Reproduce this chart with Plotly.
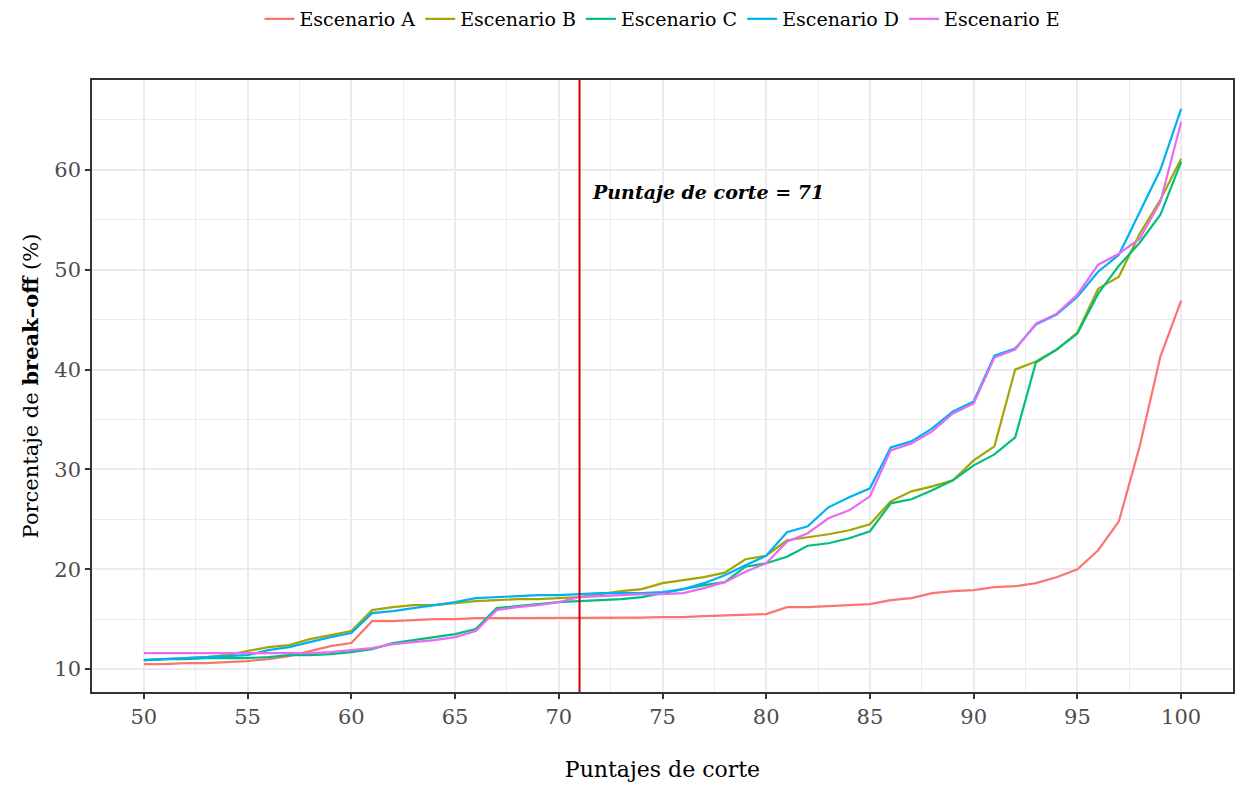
import plotly.graph_objects as go

# Puntajes de corte (eje x)
puntajes = list(range(50, 101))

# Porcentaje de break-off por escenario
esc_a = [10.5, 10.5, 10.6, 10.6, 10.7, 10.8, 11.0, 11.3, 11.8, 12.3,
         12.6, 14.8, 14.8, 14.9, 15.0, 15.0, 15.1, 15.1, 15.1, 15.1,
         15.1, 15.1, 15.1, 15.15, 15.15, 15.2, 15.2, 15.3, 15.35, 15.4,
         15.5, 16.2, 16.2, 16.3, 16.4, 16.5, 16.9, 17.1, 17.6, 17.8,
         17.9, 18.2, 18.3, 18.6, 19.2, 20.0, 21.9, 24.8, 32.3, 41.3,
         46.9]
esc_b = [10.9, 11.0, 11.1, 11.2, 11.4, 11.8, 12.2, 12.4, 13.0, 13.4,
         13.8, 15.9, 16.2, 16.4, 16.4, 16.6, 16.8, 16.9, 17.0, 17.0,
         17.1, 17.2, 17.5, 17.8, 18.0, 18.6, 18.9, 19.2, 19.65, 21.0,
         21.35, 22.9, 23.2, 23.5, 23.9, 24.5, 26.8, 27.8, 28.3, 28.9,
         30.9, 32.3, 40.0, 40.8, 42.0, 43.7, 48.1, 49.3, 53.6, 57.0,
         61.1]
esc_c = [10.9, 11.0, 11.0, 11.1, 11.1, 11.1, 11.2, 11.4, 11.4, 11.5,
         11.7, 12.0, 12.6, 12.9, 13.2, 13.5, 14.0, 16.1, 16.3, 16.5,
         16.7, 16.8, 16.9, 17.0, 17.2, 17.6, 18.0, 18.4, 18.7, 20.25,
         20.6, 21.25, 22.35, 22.6, 23.1, 23.8, 26.6, 27.0, 27.9, 28.9,
         30.4, 31.5, 33.2, 40.7, 42.0, 43.6, 47.6, 50.4, 52.7, 55.5,
         60.8]
esc_d = [10.9, 11.0, 11.1, 11.2, 11.3, 11.4, 11.9, 12.2, 12.7, 13.2,
         13.6, 15.6, 15.8, 16.1, 16.4, 16.7, 17.1, 17.2, 17.3, 17.4,
         17.4, 17.5, 17.6, 17.6, 17.6, 17.7, 18.0, 18.6, 19.4, 20.4,
         21.35, 23.7, 24.3, 26.2, 27.2, 28.1, 32.2, 32.8, 34.1, 35.8,
         36.8, 41.4, 42.1, 44.5, 45.5, 47.3, 49.8, 51.5, 55.7, 60.0,
         66.1]
esc_e = [11.6, 11.6, 11.6, 11.6, 11.6, 11.6, 11.6, 11.6, 11.6, 11.7,
         11.9, 12.1, 12.5, 12.7, 12.9, 13.2, 13.8, 15.9, 16.2, 16.4,
         16.7, 17.2, 17.3, 17.4, 17.5, 17.5, 17.6, 18.1, 18.7, 19.75,
         20.6, 22.75, 23.6, 25.1, 25.9, 27.3, 31.9, 32.6, 33.8, 35.6,
         36.6, 41.2, 42.0, 44.6, 45.6, 47.5, 50.5, 51.6, 53.1, 56.8,
         64.8]

nombres = ["Escenario A", "Escenario B", "Escenario C", "Escenario D", "Escenario E"]
series = [esc_a, esc_b, esc_c, esc_d, esc_e]
colores = ["#F8766D", "#A3A500", "#00BF7D", "#00B0F6", "#E76BF3"]

corte = 71
etiqueta_corte = "Puntaje de corte = 71"

FUENTE = "DejaVu Serif"

fig = go.Figure()
for nombre, valores, color in zip(nombres, series, colores):
    fig.add_trace(go.Scatter(
        x=puntajes, y=valores, mode="lines", name=nombre,
        line=dict(color=color, width=2.2),
    ))

fig.add_shape(type="line", xref="x", yref="paper", x0=corte, x1=corte,
              y0=0, y1=1, line=dict(color="#CC0000", width=2))

fig.add_annotation(x=corte + 0.5, y=57.8, xref="x", yref="y",
                   text="<b><i>" + etiqueta_corte + "</i></b>",
                   showarrow=False, xanchor="left", yanchor="middle",
                   font=dict(family=FUENTE, size=19, color="black"))

eje = dict(
    showline=True, mirror=True, linecolor="#333333", linewidth=1.5,
    ticks="outside", ticklen=5, tickwidth=1.5, tickcolor="#333333",
    showgrid=True, gridcolor="#EBEBEB", gridwidth=1.6,
    zeroline=False,
    tickfont=dict(family=FUENTE, size=21, color="#4D4D4D"),
)

fig.update_xaxes(
    **eje, range=[47.5, 102.5], tick0=50, dtick=5,
    minor=dict(dtick=2.5, showgrid=True, gridcolor="#EBEBEB", gridwidth=0.8),
    title=dict(text="Puntajes de corte", standoff=34,
               font=dict(family=FUENTE, size=22, color="black")),
)
fig.update_yaxes(
    **eje, range=[7.7, 69.0], tick0=10, dtick=10,
    minor=dict(dtick=5, showgrid=True, gridcolor="#EBEBEB", gridwidth=0.8),
    title=dict(text="Porcentaje de <b>break–off</b> (%)", standoff=10,
               font=dict(family=FUENTE, size=21, color="black")),
)

fig.update_layout(
    width=1236, height=785,
    margin=dict(l=92, r=1, t=80, b=93),
    plot_bgcolor="white", paper_bgcolor="white",
    showlegend=True,
    legend=dict(orientation="h", x=0.5, xanchor="center", y=1.0,
                yanchor="top", yref="container",
                font=dict(family=FUENTE, size=19, color="black"),
                itemwidth=30, tracegroupgap=0),
)

fig.write_html("out.html")
